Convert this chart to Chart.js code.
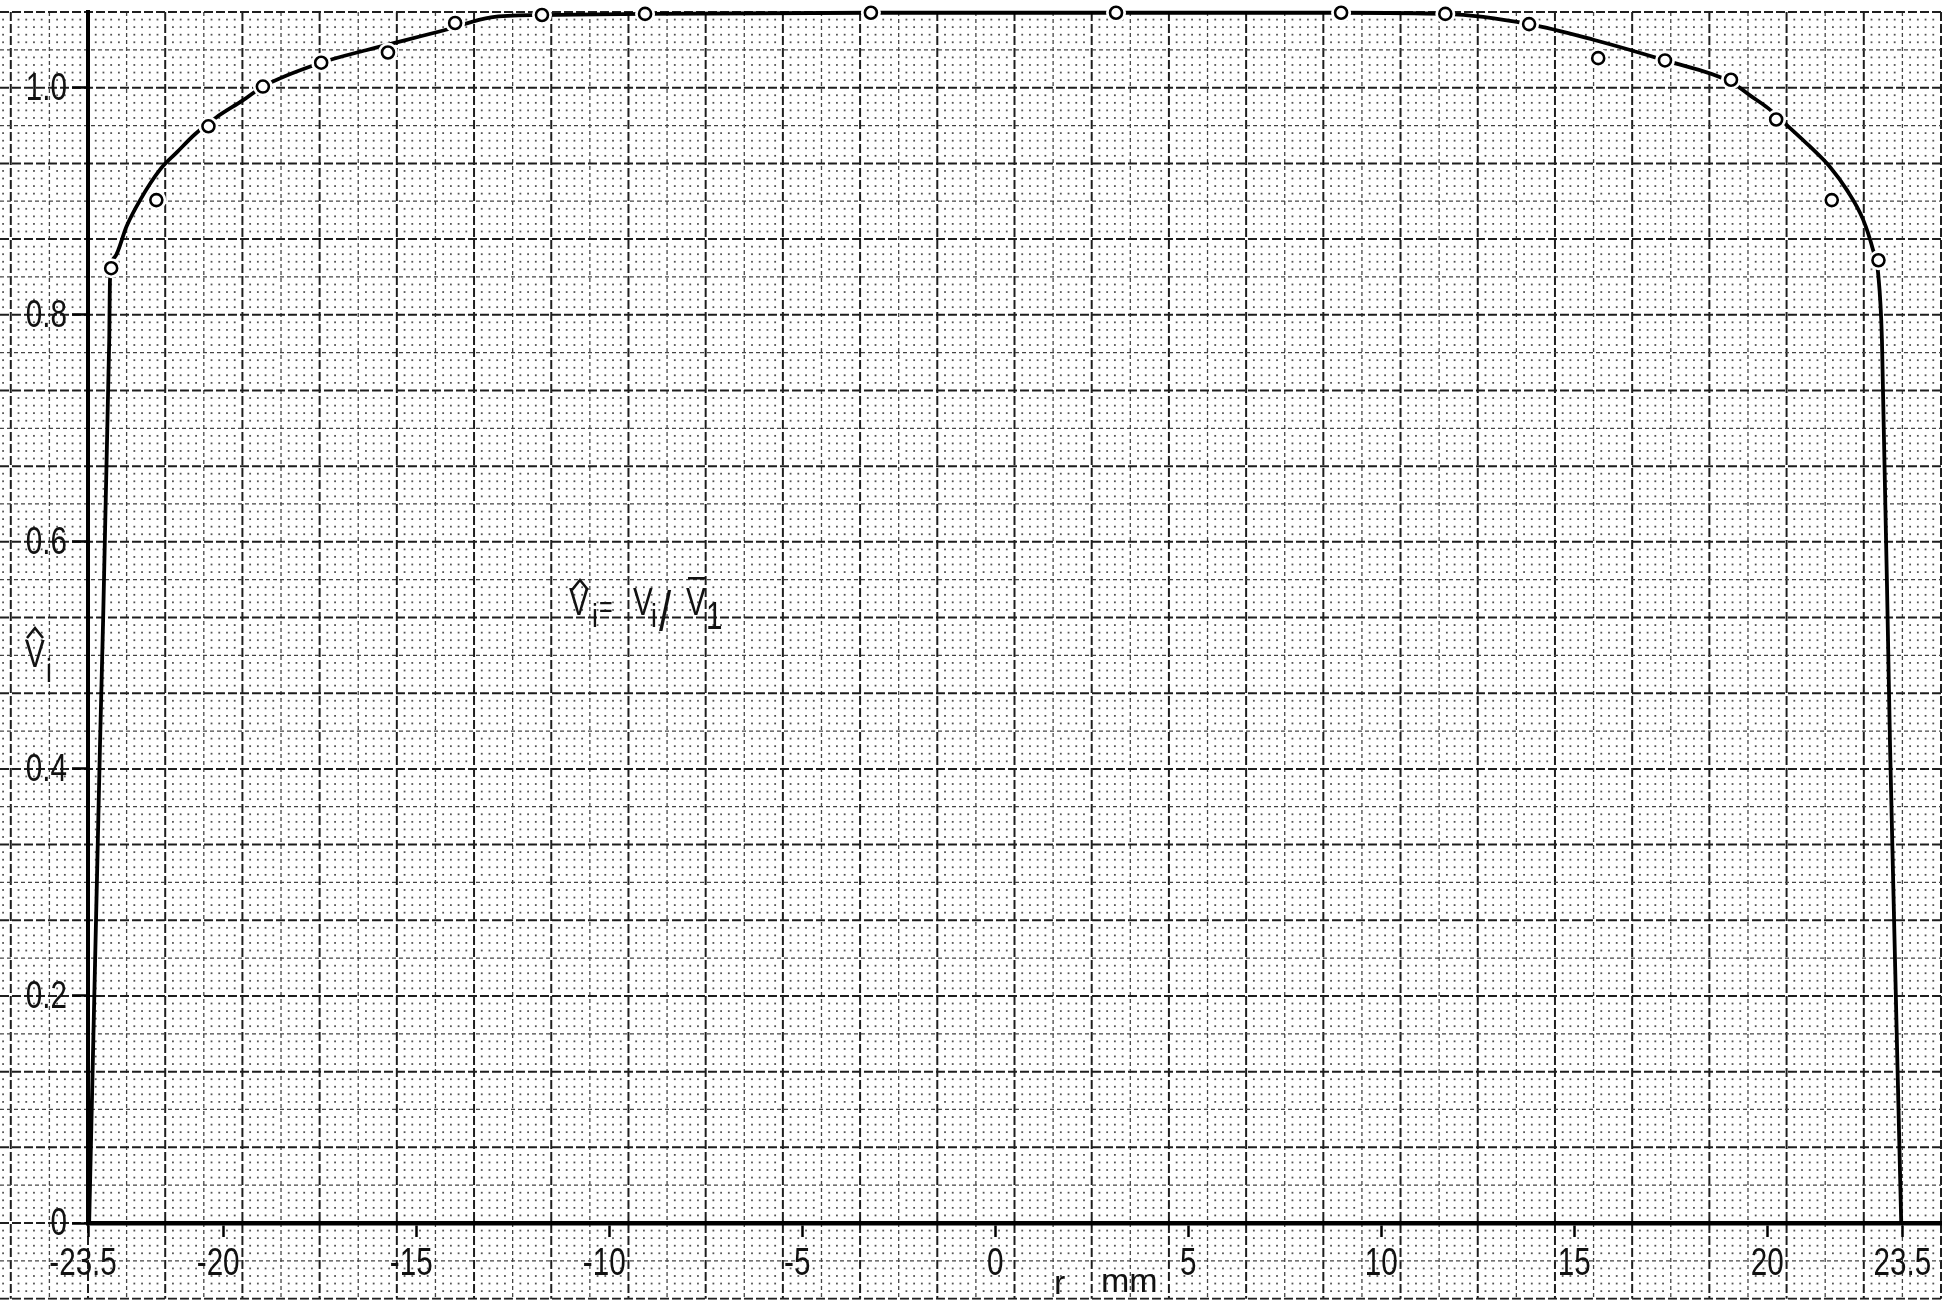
<!DOCTYPE html>
<html>
<head>
<meta charset="utf-8">
<script src="https://cdn.jsdelivr.net/npm/chart.js@4.4.1/dist/chart.umd.min.js"></script>
<style>
  html, body { margin: 0; padding: 0; background: #fff; }
  canvas { display: block; }
</style>
</head>
<body>
<canvas id="profileChart" width="1959" height="1303"></canvas>
<script>
// measured points (r in mm, normalised velocity)
const measR = [-22.90, -21.73, -20.38, -18.97, -17.46, -15.73, -13.99, -11.74, -9.07, -3.22,
               3.13, 8.96, 11.66, 13.83, 15.62, 17.35, 19.06, 20.23, 21.67, 22.88];
const measV = [0.841, 0.901, 0.966, 1.001, 1.022, 1.031, 1.057, 1.064, 1.065, 1.066,
               1.066, 1.066, 1.065, 1.056, 1.026, 1.024, 1.007, 0.972, 0.901, 0.848];

// hand drawn profile curve
const curveR = [-23.47, -23.19, -22.95, -22.93, -22.80, -22.50, -22.15, -21.63, -21.20, -20.73,
                -20.17, -19.48, -18.97, -17.46, -16.30, -14.23, -13.06, -11.74, -9.07, -3.22,
                3.13, 8.96, 11.66, 13.83, 15.52, 17.35, 19.06, 19.56, 20.02, 20.54,
                21.11, 21.63, 22.06, 22.48, 22.74, 22.87, 22.97, 23.18, 23.47];
const curveV = [0, 0.42, 0.778, 0.831, 0.851, 0.878, 0.901, 0.928, 0.943, 0.959,
                0.974, 0.989, 1.001, 1.022, 1.033, 1.051, 1.062, 1.064, 1.065, 1.066,
                1.066, 1.066, 1.065, 1.056, 1.042, 1.024, 1.005, 0.993, 0.982, 0.966,
                0.948, 0.930, 0.910, 0.884, 0.857, 0.837, 0.778, 0.42, 0];

const xTicks = [-23.5, -20, -15, -10, -5, 0, 5, 10, 15, 20, 23.5];
const xTickLabels = ['-23.5', '-20', '-15', '-10', '-5', '0', '5', '10', '15', '20', '23.5'];
const yTicks = [0, 0.2, 0.4, 0.6, 0.8, 1.0];
const yTickLabels = ['0', '0.2', '0.4', '0.6', '0.8', '1.0'];

const FONT = '"Liberation Sans", Arial, sans-serif';
const SQUEEZE = 0.78; // lettering on the sheet is narrow

const measured = measR.map((r, i) => ({ x: r, y: measV[i] }));
const curve = curveR.map((r, i) => ({ x: r, y: curveV[i] }));

// millimetre paper behind everything (1 mm cells, 0.2 mm dots)
const paperPlugin = {
    id: 'paper',
    beforeDraw(chart) {
        const { ctx, scales: { x, y } } = chart;
        ctx.save();
        ctx.fillStyle = '#fff';
        ctx.fillRect(0, 0, chart.width, chart.height);

        const right = x.getPixelForValue(24.5);
        const top = y.getPixelForValue(32 / 30);
        const bottom = y.getPixelForValue(-2 / 30);
        ctx.beginPath();
        ctx.rect(0, top - 1, right + 1, bottom - top + 2);
        ctx.clip();

        // dots
        ctx.fillStyle = '#555';
        for (let i = -20; i <= 240; i++) {
            if (i % 5 === 0) continue;
            const px = x.getPixelForValue(-23.5 + i * 0.2);
            for (let j = -10; j <= 160; j++) {
                if (j % 5 === 0) continue;
                const py = y.getPixelForValue(j / 150);
                ctx.fillRect(px - 0.9, py - 0.9, 1.8, 1.8);
            }
        }

        // cell lines
        const line = (heavy, x0, y0, x1, y1) => {
            ctx.strokeStyle = heavy ? '#1e1e1e' : '#444';
            ctx.lineWidth = heavy ? 2 : 1.3;
            ctx.setLineDash(heavy ? [9, 3] : [4, 3]);
            ctx.beginPath();
            ctx.moveTo(x0, y0);
            ctx.lineTo(x1, y1);
            ctx.stroke();
        };
        for (let k = -4; k <= 48; k++) {
            const px = x.getPixelForValue(-23.5 + k);
            line(k % 2 === 0, px, top, px, bottom);
        }
        for (let j = -2; j <= 32; j++) {
            const py = y.getPixelForValue(j / 30);
            line(j % 2 === 0, 0, py, right, py);
        }
        ctx.restore();
    }
};

// narrow lettering helper
function squeezed(ctx, text, x, y, align, size) {
    ctx.save();
    ctx.font = size + 'px ' + FONT;
    ctx.textAlign = align;
    ctx.translate(x, y);
    ctx.scale(SQUEEZE, 1);
    ctx.fillText(text, 0, 0);
    ctx.restore();
}

function hat(ctx, cx, yTop) {
    ctx.beginPath();
    ctx.moveTo(cx - 8, yTop + 10);
    ctx.lineTo(cx, yTop);
    ctx.lineTo(cx + 8, yTop + 10);
    ctx.stroke();
}

const labelPlugin = {
    id: 'labels',
    afterDraw(chart) {
        const { ctx, scales: { x, y } } = chart;
        ctx.save();
        ctx.fillStyle = '#111';
        ctx.strokeStyle = '#111';
        ctx.lineWidth = 2.6;

        // tick labels, digits centred on the tick, minus sign hanging left
        ctx.textBaseline = 'alphabetic';
        xTicks.forEach((v, i) => {
            const txt = xTickLabels[i];
            ctx.font = '38px ' + FONT;
            const digits = txt.replace('-', '');
            const w = ctx.measureText(digits).width * SQUEEZE;
            squeezed(ctx, txt, x.getPixelForValue(v) + w / 2, 1275, 'right', 38);
        });
        ctx.textBaseline = 'middle';
        yTicks.forEach((v, i) => {
            squeezed(ctx, yTickLabels[i], 67, y.getPixelForValue(v) + 2, 'right', 38);
        });

        // y axis symbol
        ctx.textBaseline = 'alphabetic';
        squeezed(ctx, 'V', 25, 667, 'left', 38);
        hat(ctx, 35, 628);
        squeezed(ctx, 'i', 46, 682, 'left', 34);

        // x axis title
        ctx.font = '34px ' + FONT;
        ctx.textAlign = 'left';
        ctx.fillText('r', 1054, 1294);
        ctx.fillText('mm', 1101, 1292);

        // formula  V̂i = Vi / V̄1
        squeezed(ctx, 'V', 569, 615, 'left', 38);
        hat(ctx, 580, 580);
        squeezed(ctx, 'i', 592, 627, 'left', 34);
        squeezed(ctx, '=', 599, 617, 'left', 30);
        squeezed(ctx, 'V', 633, 615, 'left', 38);
        squeezed(ctx, 'i', 651, 627, 'left', 34);
        squeezed(ctx, '/', 659, 630, 'left', 56);
        squeezed(ctx, 'V', 686, 615, 'left', 38);
        ctx.fillRect(688, 577, 18, 2.6);
        squeezed(ctx, '1', 706, 629, 'left', 38);
        ctx.restore();
    }
};

const ctx = document.getElementById('profileChart').getContext('2d');
new Chart(ctx, {
    type: 'scatter',
    data: {
        datasets: [
            {
                label: 'profile',
                data: curve,
                showLine: true,
                borderColor: '#000',
                borderWidth: 3.8,
                pointRadius: 0,
                cubicInterpolationMode: 'monotone',
                clip: false,
                order: 3
            },
            {
                label: 'gap',
                data: measured,
                pointRadius: 10,
                pointBackgroundColor: '#fff',
                pointBorderWidth: 0,
                clip: false,
                order: 2
            },
            {
                label: 'measured',
                data: measured,
                pointRadius: 6,
                pointBackgroundColor: '#fff',
                pointBorderColor: '#000',
                pointBorderWidth: 2.6,
                clip: false,
                order: 1
            }
        ]
    },
    options: {
        responsive: false,
        animation: false,
        events: [],
        layout: { padding: { top: 12, right: 18, left: 0, bottom: 0 } },
        plugins: {
            legend: { display: false },
            tooltip: { enabled: false }
        },
        scales: {
            x: {
                type: 'linear',
                min: -23.5,
                max: 24.5,
                afterFit(scale) { scale.height = 80; },
                afterBuildTicks(scale) { scale.ticks = xTicks.map(v => ({ value: v })); },
                grid: { drawOnChartArea: false, drawTicks: true, tickLength: 14, tickColor: '#000', tickWidth: 2.5 },
                border: { display: true, color: '#000', width: 4.5 },
                ticks: { display: false }
            },
            y: {
                type: 'linear',
                min: 0,
                max: 32 / 30,
                afterFit(scale) { scale.width = 88; },
                afterBuildTicks(scale) { scale.ticks = yTicks.map(v => ({ value: v })); },
                grid: { drawOnChartArea: false, drawTicks: true, tickLength: 16, tickColor: '#000', tickWidth: 2.5 },
                border: { display: true, color: '#000', width: 4 },
                ticks: { display: false }
            }
        }
    },
    plugins: [paperPlugin, labelPlugin]
});
</script>
</body>
</html>
